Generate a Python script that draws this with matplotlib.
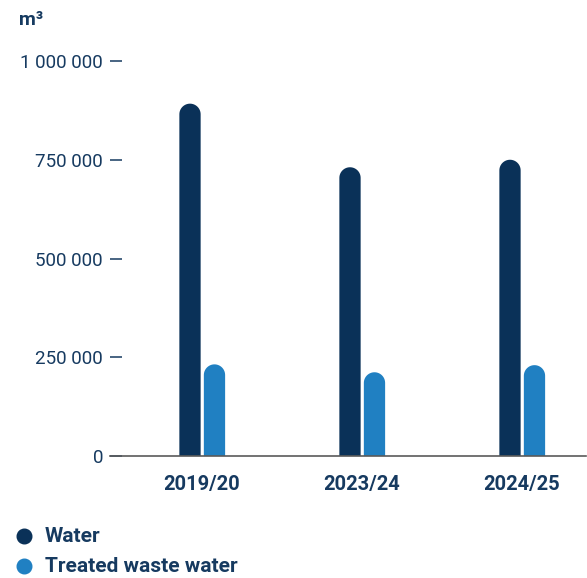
import matplotlib
matplotlib.use("Agg")
import matplotlib.pyplot as plt
from matplotlib.patches import Polygon
from matplotlib.lines import Line2D
import numpy as np

categories = ["2019/20", "2023/24", "2024/25"]
water = [892000, 731000, 750000]
treated = [232000, 212000, 230000]
series_names = ["Water", "Treated waste water"]
yticks = [0, 250000, 500000, 750000, 1000000]
ytick_labels = ["0", "250 000", "500 000", "750 000", "1 000 000"]
unit_label = "m³"

NAVY = "#0a3158"
BLUE = "#2080c2"
TEXT = "#163a60"

plt.rcParams['font.family'] = ['Roboto', 'DejaVu Sans']

W, H = 587, 578
fig = plt.figure(figsize=(W / 100, H / 100), dpi=100)
ax_l, ax_r, ax_b, ax_t = 110, 586, 456, 61
ax = fig.add_axes([ax_l / W, (H - ax_b) / H, (ax_r - ax_l) / W, (ax_b - ax_t) / H])

xmin, xmax = -0.575, 2.4
ymax = 1000000
ax.set_xlim(xmin, xmax)
ax.set_ylim(0, ymax)

px_per_x = (ax_r - ax_l) / (xmax - xmin)
px_per_y = (ax_b - ax_t) / ymax

bw = 0.133
offs = [-0.075, 0.078]
x = np.arange(len(categories))
theta = np.linspace(0, np.pi, 40)
for vals, off, col in [(water, offs[0], NAVY), (treated, offs[1], BLUE)]:
    r_px = bw * px_per_x / 2
    r_y = r_px / px_per_y
    for xi, v in zip(x + off, vals):
        cy = v - r_y
        arc_x = xi + (bw / 2) * np.cos(theta)
        arc_y = cy + r_y * np.sin(theta)
        pts = [(xi + bw / 2, 0)] + list(zip(arc_x, arc_y)) + [(xi - bw / 2, 0)]
        ax.add_patch(Polygon(pts, closed=True, facecolor=col, edgecolor="none"))

for s in ["left", "right", "top"]:
    ax.spines[s].set_visible(False)
ax.spines["bottom"].set_color("#5a5a5a")
ax.spines["bottom"].set_linewidth(1.2)
ax.spines["bottom"].set_zorder(5)

ax.set_yticks(yticks)
ax.set_yticklabels(ytick_labels)
ax.tick_params(axis="y", direction="in", length=8.6, width=1.1, color=TEXT,
               pad=5, labelsize=13.5, labelcolor=TEXT)
ax.set_xticks(x)
ax.set_xticklabels(categories, fontweight="bold")
ax.tick_params(axis="x", length=0, pad=14, labelsize=14.5, labelcolor=TEXT)

fig.text(19 / W, 1 - 20 / H, unit_label, fontsize=14, fontweight="bold",
         color=TEXT, va="center", ha="left")

for i, (name, col) in enumerate(zip(series_names, [NAVY, BLUE])):
    yy = 1 - (536 + 30 * i) / H
    fig.add_artist(Line2D([24 / W], [yy], marker="o", markersize=10.5,
                          color=col, linestyle="none", transform=fig.transFigure))
    fig.text(45 / W, yy, name, fontsize=15, fontweight="bold", color=TEXT,
             va="center", ha="left")

fig.savefig("out.png", dpi=100)
